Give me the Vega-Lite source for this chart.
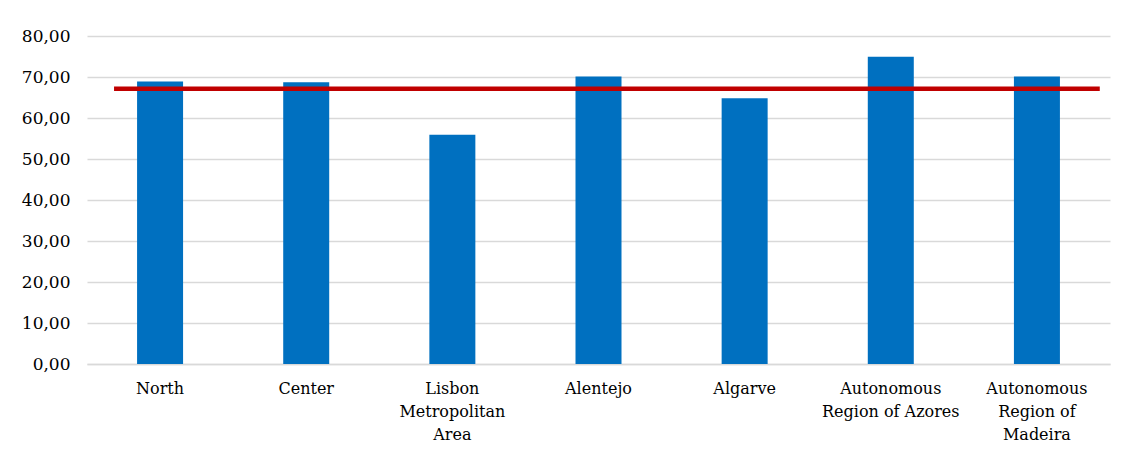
{
  "$schema": "https://vega.github.io/schema/vega-lite/v6.json",
  "autosize": {"type": "none"},
  "width": 1023,
  "height": 328,
  "padding": {"left": 87, "top": 36, "right": 12, "bottom": 86},
  "background": "white",
  "config": {
    "view": {"stroke": null},
    "font": "DejaVu Serif"
  },
  "layer": [
    {
      "data": {
        "values": [
          {"region": "North", "value": 68.9},
          {"region": "Center", "value": 68.7},
          {"region": "Lisbon Metropolitan Area", "value": 55.9},
          {"region": "Alentejo", "value": 70.1},
          {"region": "Algarve", "value": 64.8},
          {"region": "Autonomous Region of Azores", "value": 74.95},
          {"region": "Autonomous Region of Madeira", "value": 70.1}
        ]
      },
      "mark": {"type": "bar", "color": "#0070C0", "size": 46},
      "encoding": {
        "x": {
          "field": "region",
          "type": "nominal",
          "scale": {
            "domain": ["North", "Center", "Lisbon Metropolitan Area", "Alentejo", "Algarve", "Autonomous Region of Azores", "Autonomous Region of Madeira"],
            "paddingInner": 0, "paddingOuter": 0
          },
          "axis": {
            "title": null,
            "labelAngle": 0,
            "labelFont": "DejaVu Serif",
            "labelFontSize": 16,
            "labelColor": "#000000",
            "labelPadding": 16,
            "labelLineHeight": 23,
            "labelLimit": 200,
            "ticks": false,
            "domainColor": "#D9D9D9",
            "domainWidth": 1.5,
            "labelExpr": "datum.label == 'Lisbon Metropolitan Area' ? ['Lisbon', 'Metropolitan', 'Area'] : datum.label == 'Autonomous Region of Azores' ? ['Autonomous', 'Region of Azores'] : datum.label == 'Autonomous Region of Madeira' ? ['Autonomous', 'Region of', 'Madeira'] : datum.label"
          }
        },
        "y": {
          "field": "value",
          "type": "quantitative",
          "scale": {"domain": [0, 80], "nice": false},
          "axis": {
            "title": null,
            "values": [0, 10, 20, 30, 40, 50, 60, 70, 80],
            "labelExpr": "replace(format(datum.value, '.2f'), '.', ',')",
            "labelFont": "DejaVu Serif",
            "labelFontSize": 17,
            "labelColor": "#000000",
            "labelPadding": 17,
            "ticks": false,
            "domain": false,
            "gridColor": "#D9D9D9",
            "gridWidth": 1.5
          }
        }
      }
    },
    {
      "data": {
        "values": [
          {"average": 67.15, "from": "North", "to": "Autonomous Region of Madeira"}
        ]
      },
      "mark": {"type": "rule", "color": "#C00000", "strokeWidth": 4.5},
      "encoding": {
        "x": {"field": "from", "type": "nominal", "bandPosition": 0.185},
        "x2": {"field": "to", "bandPosition": 0.93},
        "y": {"field": "average", "type": "quantitative"}
      }
    }
  ]
}
